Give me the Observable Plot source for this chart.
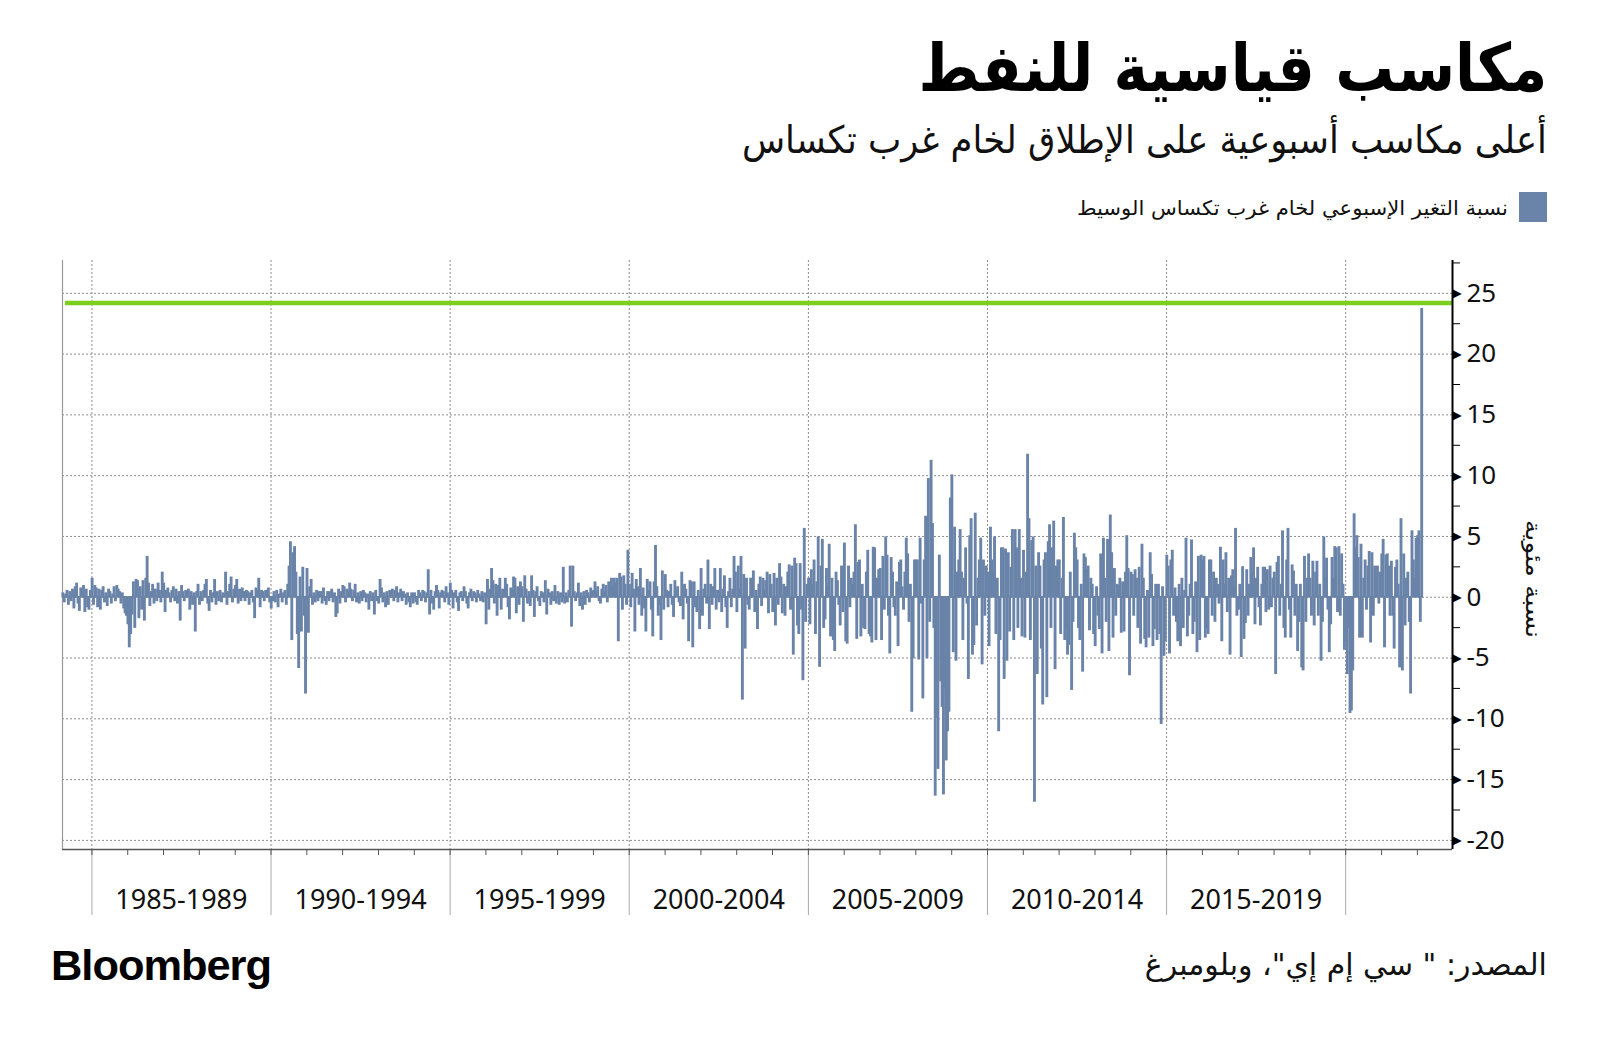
<!DOCTYPE html>
<html><head><meta charset="utf-8">
<script src="https://cdn.jsdelivr.net/npm/d3@7"></script>
<script src="https://cdn.jsdelivr.net/npm/@observablehq/plot@0.6"></script>
<style>
body{margin:0;background:#fff;}
#page{position:relative;width:1600px;height:1047px;overflow:hidden;background:#fff;}
#chart{position:absolute;left:0;top:240px;}
.t{position:absolute;white-space:nowrap;line-height:1;color:#111;}
.ar{font-family:'DejaVu Sans',sans-serif;}
</style></head><body>
<div id="page">
  <div id="chart"></div>
  <div class="t ar fit" id="title" dir="rtl" data-w="629" data-origin="right" style="right:53px;top:36px;font-size:66px;font-weight:bold;color:#000;">مكاسب قياسية للنفط</div>
  <div class="t ar fit" id="subtitle" dir="rtl" data-w="805" data-origin="right" style="right:53px;top:121px;font-size:38px;">أعلى مكاسب أسبوعية على الإطلاق لخام غرب تكساس</div>
  <div id="legendSwatch" style="position:absolute;left:1519px;top:192px;width:28px;height:30px;"></div>
  <div class="t ar fit" id="legendText" dir="rtl" data-w="431" data-origin="right" style="right:92px;top:198px;font-size:20px;">نسبة التغير الإسبوعي لخام غرب تكساس الوسيط</div>
  <div class="t ar" id="ytitle" dir="rtl" style="left:1533px;top:579px;font-size:22px;">نسبة مئوية</div>
  <div class="t ar fit" id="source" dir="rtl" data-w="402" data-origin="right" style="right:53px;top:950px;font-size:30px;">المصدر: " سي إم إي"، وبلومبرغ</div>
  <div class="t fit" id="logo" data-w="220" data-origin="left" style="left:51px;top:944px;font-size:43px;font-weight:bold;font-family:'Liberation Sans',Arial,sans-serif;color:#000;letter-spacing:-1px;">Bloomberg</div>
</div>
<script>
// ---- Data: WTI weekly % change (one value per two weeks) ----
const wti1984 = [0.3, -0.4, 0.2, 0.5, -0.6, 0.4, -0.3, 0.6, -0.9, 0.8, 1.1, -0.5, -1.1, 0.7, 0.4, 0.9, -1.2, 0.6, -0.8, -1.0, 0.5];
const wti1985to1989 = [
  1.5, -0.6, 0.9, 0.7, -0.8, 0.6, -1.0, 0.5, 0.8, -0.4, 0.3, -0.7, 0.6, 0.4, -0.5, 0.2, 0.8, -0.3, 0.9, 0.6, 0.4, -0.5, 0.3, -0.9, -1.3, -1.5,
  -2.2, -4.1, -3.0, -1.4, 1.2, -2.5, 1.4, 1.3, -1.7, 0.8, -1.0, 1.3, -1.9, 1.5, 3.3, 1.1, -0.7, 0.4, 1.0, -0.5, 0.6, -0.3, 1.1, 0.5, -0.4, 2.0,
  1.1, -1.2, 0.5, 0.7, 0.3, -0.4, 0.5, 0.8, -0.3, 0.6, -0.5, 0.4, -1.9, 0.9, 0.4, -0.3, 0.5, 0.3, 0.6, -1.0, 0.4, -0.6, 0.3, -2.8, 0.4, 1.0,
  -0.6, 0.4, -0.3, 0.5, 1.0, 1.4, -0.5, -1.1, 0.5, -0.4, 0.3, 1.4, -0.6, 0.4, -0.3, 0.5, -0.4, 0.3, 0.2, 2.0, -0.6, 0.4, 1.0, 1.6, -0.4, 0.6,
  0.9, 1.4, -0.5, 0.6, -0.3, 0.7, 0.4, -0.3, 0.5, 0.4, -0.6, 0.3, 0.5, -0.4, -1.7, 0.7, 0.5, 1.5, -0.8, 0.5, 0.4, -0.3, 0.5, 0.3, 0.7, -0.4
];
const wti1990to1994 = [
  -0.9, -0.3, 0.4, -0.4, 0.5, -0.8, 0.2, 0.6, -0.4, 0.3, 0.5, -0.6, 1.0, 2.5, 4.5, -3.5, 3.6, 4.1, 2.0, -3.0, -5.8, 1.6, -2.8, 2.4, -1.5, -7.9,
  2.3, -2.9, 0.8, 1.4, -0.6, 0.3, -0.4, 0.5, -0.3, 0.4, 0.4, -0.5, 0.7, -0.3, -0.6, 0.4, -0.3, 0.4, 0.6, -0.4, 0.3, -1.6, -1.3, 0.6, -0.5, 0.4,
  0.9, 0.8, -0.4, 0.6, 0.4, 1.1, 0.6, -0.3, 0.5, 1.0, -0.4, 0.3, -0.5, 0.4, -0.3, 0.5, 0.3, -0.4, 0.2, -1.0, 0.4, -0.3, 0.3, -1.4, 0.5, -0.3,
  -0.5, 1.4, 0.7, -0.4, 0.3, -0.8, 0.4, -0.6, 0.5, 0.3, 0.6, -0.3, 0.5, 0.8, -0.4, 0.3, 0.6, -0.3, 0.4, 0.2, -0.6, 0.3, -0.4, -0.8, 0.3, -0.5,
  0.3, -0.4, -0.6, 0.5, 0.3, -0.3, 0.5, 0.4, -0.4, 0.3, 2.2, -1.4, 0.5, -0.5, -1.0, 0.4, 0.9, 0.5, -0.9, 0.3, 0.5, 0.4, -0.4, 0.8, 0.3, -0.6
];
const wti1995to1999 = [
  1.1, 0.5, -0.9, 0.3, 0.5, -0.4, -1.1, 0.3, 0.4, -0.3, 0.8, 0.4, -0.5, -0.9, 0.3, 0.6, -0.3, 0.4, 0.3, -0.4, 0.5, 0.2, -0.3, 0.4, -0.4, 0.3,
  -2.2, 1.4, -1.0, 0.6, 2.3, 1.3, -0.5, 1.0, -1.5, 0.9, 1.5, -1.0, 0.6, 0.5, 1.5, 1.0, -0.8, -1.8, 0.7, 0.5, 1.6, 1.5, -1.3, 0.8, -0.6, 1.2,
  0.8, -2.0, 1.7, 0.6, -0.5, 0.4, -0.7, 1.7, 0.5, -1.6, 0.4, 0.8, -0.3, -0.7, 0.4, 0.3, -0.4, 1.3, -1.4, 0.6, 0.3, -0.6, 0.4, -0.3, 0.9, -0.5,
  0.4, -0.6, 0.3, -0.4, 2.4, -0.5, 0.3, -0.4, 0.5, 2.5, -2.4, 2.5, 0.4, -0.3, 0.3, 1.1, -0.7, 0.3, -1.0, 0.4, -0.6, 0.5, 0.3, -0.4, 0.7, 0.4,
  0.5, 1.2, 0.4, 0.8, -0.3, -0.5, 0.6, 1.0, 0.4, 0.9, -0.4, 1.2, 0.6, 1.5, 0.8, 1.5, 1.1, 1.5, -3.6, 1.9, 1.6, -1.0, 1.7, 1.0, -0.6, 3.8
];
const wti2000to2004 = [
  1.0, -0.8, 1.9, 0.6, -2.8, 1.4, 0.8, -0.6, 2.3, -1.5, 0.7, -0.9, -2.8, 1.4, 0.5, 1.2, -1.0, -3.2, 1.2, 4.2, 0.8, -1.5, -0.6, -3.5, 2.1, -1.0,
  1.8, 0.5, -0.8, 0.4, 1.0, -0.6, -1.6, 1.3, 0.5, 0.8, -0.4, -0.7, 2.0, -1.8, 1.0, 0.6, -0.5, -3.6, 1.3, 1.2, -4.1, 1.2, -0.8, -1.2, 0.5, -2.6,
  2.3, -1.5, 0.6, 1.0, -0.5, 3.0, -2.6, 1.0, -0.6, 0.8, 2.3, -1.0, 0.5, -0.4, 2.3, -1.2, 0.6, 1.7, -0.8, -2.5, 0.4, 1.5, -0.8, 0.6, 3.3, 2.0,
  -1.2, 2.5, 0.6, 3.3, -8.4, 1.8, -4.2, 1.5, -0.6, -1.0, 1.5, 0.5, 2.1, -1.2, 0.5, -2.6, 1.0, 1.6, -0.7, 1.5, 0.5, 1.3, 2.0, -1.3, 1.8, 1.0,
  -1.2, 1.9, -2.3, 1.5, -0.6, 2.7, 1.6, -1.3, 1.0, -1.5, 0.8, 2.0, 2.6, -1.0, 2.5, -4.7, 3.15, 2.7, -2.3, -3.0, 2.7, -1.0, -6.8, 5.6, -2.0, 1.0
];
const wti2005to2009 = [
  1.5, -2.2, 2.2, 1.0, 3.0, -3.0, 1.2, 4.9, -5.7, 2.5, 4.7, -2.5, -1.8, 2.3, 0.8, 4.3, -3.2, 1.5, -3.5, -4.4, 2.0, 1.3, -0.6, -2.3, 2.5, -1.2,
  4.4, -3.6, -3.8, 2.5, -0.8, 1.5, 1.0, 2.0, 5.9, -3.4, 2.8, 3.0, -3.2, 1.0, -2.5, -2.6, 2.0, 3.8, -3.0, -3.2, -3.7, 4.05, 4.0, -3.5, 1.5, 2.2,
  2.3, -3.5, 3.3, -1.0, 4.9, 3.4, -1.5, -4.6, 3.2, 2.0, -0.8, -1.5, 1.2, -4.0, 2.8, 3.0, 0.8, -1.0, 2.0, 4.8, 3.5, -2.0, 1.0, -9.4, -5.0, 3.0,
  3.0, 3.0, -5.1, 4.8, -0.5, -8.3, 3.0, 6.6, -5.0, 9.7, -2.0, 11.2, 6.0, -2.5, -16.3, -9.9, -14.1, 3.4, -6.9, -9.0, -16.2, -7.5, -13.4, -11.0, -9.4, 8.1,
  10.0, -4.5, 5.7, -5.2, 2.0, 3.0, 5.5, 2.0, -3.5, 1.5, 4.0, -0.5, -6.7, 5.0, 6.4, -4.7, -3.9, 6.85, -2.3, 1.5, 3.0, 4.8, -5.5, 3.0, -1.5, 2.5
];
const wti2010to2014 = [
  2.0, -4.0, 5.7, 3.0, 2.0, 4.9, -3.0, 1.5, -11.0, -3.5, 4.0, 4.0, -6.7, 3.9, -5.2, 3.6, -2.8, 2.4, 5.5, -3.5, 5.5, 4.0, -2.5, 5.5, 1.5, -3.2,
  3.8, -3.3, 2.0, 11.7, 6.4, -3.5, 4.6, 4.9, -16.8, 2.5, -6.3, 3.6, 2.5, -4.2, -8.8, 3.0, 3.6, -8.2, 4.5, 5.9, -2.5, 4.0, 6.2, -5.9, 2.5, 3.0,
  3.0, -3.0, 1.5, 6.5, -3.5, -2.5, -4.7, -3.9, 2.0, -7.6, -2.0, 5.2, 4.0, 3.0, -2.5, -3.5, 1.0, -6.1, 3.5, 3.2, 2.2, 2.5, -2.7, 1.5, 1.0, -3.0,
  -4.0, 0.8, -1.5, -2.6, 3.5, -4.6, 4.8, 1.5, -2.0, 4.7, -4.4, 6.7, 3.6, -3.3, 2.3, -1.5, 1.0, 0.9, 1.5, -2.9, 1.2, -2.8, 2.0, 5.0, 2.3, -6.4,
  2.0, 1.8, -1.5, 2.2, 1.5, -2.5, 2.4, -3.8, 4.3, 1.5, -3.4, -4.1, 0.5, -3.3, 3.6, 1.8, -4.0, -2.6, 1.0, -3.5, 1.0, -3.0, -10.4, 0.8, -4.8, -3.6
];
const wti2015to2019 = [
  3.4, 2.5, -4.6, 3.0, 3.8, -1.5, 0.7, -2.0, -3.6, 1.0, -4.0, 1.5, -2.5, 0.5, 4.8, -3.2, -1.5, 1.0, 4.65, -3.0, -2.0, 1.2, -4.5, 3.3, -3.5, 3.4,
  3.0, 3.3, -3.3, -2.5, -3.0, 3.0, 3.0, -1.5, 2.0, -2.0, 1.5, 1.0, -0.5, 4.05, -3.6, 3.0, 1.0, 3.6, -1.2, 1.5, -4.7, 1.7, 2.2, 0.8, 5.6, -1.5,
  -1.0, 1.0, -4.9, 2.45, -3.4, -2.1, 2.2, -1.5, 1.0, 3.2, 2.0, 4.0, -2.2, 1.5, 2.4, -0.8, -2.3, 1.0, 2.4, 2.4, -1.2, 2.2, -1.0, 2.5, -0.8, 1.5,
  2.0, -6.3, 2.8, 3.3, -1.5, 1.0, 5.4, -2.5, -3.3, 3.0, 5.6, -1.0, -3.3, 2.6, 2.1, -1.5, 1.0, -4.4, -2.0, 1.0, -5.75, -6.0, 3.3, -2.0, 1.5, 3.5,
  1.5, -1.5, 2.9, -2.3, 2.0, 2.9, -1.5, 1.0, -5.2, -2.0, 4.9, 1.5, 3.15, -1.0, -4.5, -2.2, 3.2, 1.5, 4.1, 4.0, -1.2, 4.1, -1.5, 3.5, 1.0, -4.3
];
const wti2020to2022 = [
  -3.5, -6.3, -2.5, -9.5, -9.3, -6.0, 6.8, 4.0, 5.0, 3.2, -3.3, 4.3, -3.3, 1.5, 3.0, -1.0, 2.5, 3.7, -3.7, 3.6, -1.5, 2.5, 1.5, 2.5, -0.5, 2.0,
  3.5, 4.7, -4.1, 3.4, 3.5, 2.5, -1.5, 2.9, -1.5, -4.2, 2.4, 3.0, 1.0, -5.75, 6.4, -6.0, 3.5, -2.3, 1.5, 2.0, -2.0, -7.9, 5.4, 3.0, 1.5, 4.8,
  5.0, 5.4, -2.0, 23.7
];
const recordGain = 24.2;            // green reference line
const bandStartYears = [1985, 1990, 1995, 2000, 2005, 2010, 2015, 2020];
const bandLabels = ["1985-1989", "1990-1994", "1995-1999", "2000-2004", "2005-2009", "2010-2014", "2015-2019"];
const yTicks = [-20, -15, -10, -5, 0, 5, 10, 15, 20, 25];
const yMinorTicks = [-17.5, -12.5, -7.5, -2.5, 2.5, 7.5, 12.5, 17.5, 22.5, 27.5];

// ---- Build table ----
const DAY = 864e5;
const rows = [];
wti1984.forEach((v, i) => {
  const x1 = new Date(Date.UTC(1984, 2, 9 + 14 * i));
  rows.push({x1, x2: new Date(+x1 + 14 * DAY), value: v});
});
[[1985, wti1985to1989], [1990, wti1990to1994], [1995, wti1995to1999], [2000, wti2000to2004],
 [2005, wti2005to2009], [2010, wti2010to2014], [2015, wti2015to2019], [2020, wti2020to2022]]
.forEach(([start, vals]) => vals.forEach((v, k) => {
  const yr = start + Math.floor(k / 26), i = k % 26;
  const x1 = new Date(Date.UTC(yr, 0, 1 + 14 * i));
  rows.push({x1, x2: new Date(+x1 + 14 * DAY), value: v});
}));

const BAR = "#6a83a8", GREEN = "#7ccf1d";
const W = 1600, H = 700, mL = 62, mR = 148, mT = 20, mB = 91;
const plotW = W - mL - mR, plotH = H - mT - mB;
const xDomain = [new Date(Date.UTC(1984, 2, 7)), new Date(Date.UTC(2022, 11, 25))];
const yDomain = [-20.75, 27.7];
const bandDates = bandStartYears.map(y => new Date(Date.UTC(y, 0, 1)));
const yearDates = d3.range(1985, 2023).map(y => new Date(Date.UTC(y, 0, 1)));
const labelDates = bandLabels.map((d, i) => new Date(Date.UTC(bandStartYears[i] + 2, 6, 2)));
const fmt = d => d < 0 ? "-" + Math.abs(d) : String(d);

const chart = Plot.plot({
  width: W, height: H, marginLeft: mL, marginRight: mR, marginTop: mT, marginBottom: mB,
  style: {fontFamily: "'Noto Sans', sans-serif", fontSize: "26px", color: "#111", background: "transparent", overflow: "visible"},
  x: {type: "utc", domain: xDomain, axis: null},
  y: {domain: yDomain, axis: null},
  marks: [
    Plot.ruleY(yTicks, {stroke: "#8c8c8c", strokeDasharray: "2,2", strokeWidth: 1}),
    Plot.ruleX(bandDates, {stroke: "#8c8c8c", strokeDasharray: "2,2", strokeWidth: 1}),
    Plot.ruleX(bandDates, {stroke: "#aaa", strokeWidth: 1, insetTop: plotH, insetBottom: -66}),
    Plot.ruleX(yearDates, {stroke: "#555", strokeWidth: 1, insetTop: plotH, insetBottom: -6}),
    Plot.ruleX([xDomain[0]], {stroke: "#9a9a9a", strokeWidth: 1.2}),
    Plot.rectY(rows, {x1: "x1", x2: "x2", y: "value", fill: BAR, stroke: BAR, strokeWidth: 1.5}),
    Plot.ruleY([recordGain], {stroke: GREEN, strokeWidth: 4.5, insetLeft: 3}),
    Plot.ruleY([yDomain[0]], {stroke: "#555", strokeWidth: 1.5}),
    Plot.ruleX([xDomain[1]], {stroke: "#000", strokeWidth: 2}),
    Plot.ruleY(yMinorTicks, {stroke: "#000", strokeWidth: 1, insetLeft: plotW, insetRight: -8}),
    Plot.text(yTicks, {y: d => d, text: () => "▶", frameAnchor: "right", textAnchor: "start", dx: 0, fontSize: 12, fill: "#000", fontFamily: "DejaVu Sans"}),
    Plot.text(yTicks, {y: d => d, text: fmt, frameAnchor: "right", textAnchor: "start", dx: 14, fontSize: 26, fill: "#111"}),
    Plot.text(bandLabels, {x: (d, i) => labelDates[i], text: d => d, frameAnchor: "bottom", lineAnchor: "middle", dy: 51, fontSize: 27, fill: "#111"})
  ]
});
document.getElementById("chart").appendChild(chart);
document.getElementById("legendSwatch").style.background = BAR;

// fit text widths to the reference layout
document.querySelectorAll(".fit").forEach(el => {
  const w = el.getBoundingClientRect().width;
  const s = (+el.dataset.w) / w;
  el.style.transformOrigin = el.dataset.origin + " center";
  el.style.transform = `scaleX(${s})`;
});
const yt = document.getElementById("ytitle");
const ytw = yt.getBoundingClientRect().width;
yt.style.transform = `translate(-50%,-50%) rotate(90deg) scaleX(${118 / ytw})`;
</script>
</body></html>
